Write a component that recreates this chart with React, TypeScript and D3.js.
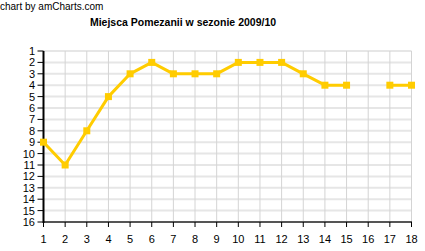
import React from "react";
import * as d3 from "d3";

const rounds = [1, 2, 3, 4, 5, 6, 7, 8, 9, 10, 11, 12, 13, 14, 15, 16, 17, 18];
const places: (number | null)[] = [9, 11, 8, 5, 3, 2, 3, 3, 3, 2, 2, 2, 3, 4, 4, null, 4, 4];
const yTicks = [1, 2, 3, 4, 5, 6, 7, 8, 9, 10, 11, 12, 13, 14, 15, 16];
const title = "Miejsca Pomezanii w sezonie 2009/10";
const credit = "chart by amCharts.com";

export default function App() {
  const W = 425, H = 251;
  const left = 43.5, right = 411.5, top = 51, bottom = 222;
  const x = d3.scaleLinear().domain([1, 18]).range([left, right]);
  const y = d3.scaleLinear().domain([1, 16]).range([top, bottom]);
  const pts = rounds.map((r, i) => ({ r, v: places[i] }));
  const line = d3
    .line<{ r: number; v: number | null }>()
    .defined((d) => d.v !== null)
    .x((d) => x(d.r))
    .y((d) => y(d.v as number));
  const font = "Liberation Sans, Arial, sans-serif";
  return (
    <svg width={W} height={H} style={{ position: "absolute", left: 0, top: 0, background: "#fff" }} fontFamily={font}>
      <rect x={0} y={0} width={W} height={H} fill="#fff" />
      <text x={0} y={10} fontSize={10} fill="#000">{credit}</text>
      <text x={183} y={26} fontSize={10.5} fontWeight="bold" textAnchor="middle" fill="#000">{title}</text>
      {yTicks.map((t) => (
        <line key={"gy" + t} x1={left} x2={right} y1={y(t)} y2={y(t)} stroke="#e6e6e6" strokeWidth={2} />
      ))}
      {rounds.map((r) => (
        <line key={"gx" + r} x1={x(r)} x2={x(r)} y1={top} y2={bottom} stroke="#d4d4d4" strokeWidth={1} />
      ))}
      <line x1={left} x2={right + 0.5} y1={bottom} y2={bottom} stroke="#555" strokeWidth={2} />
      {rounds.map((r) => (
        <g key={"tx" + r}>
          <line x1={x(r)} x2={x(r)} y1={bottom} y2={bottom + 5} stroke="#000" strokeWidth={1} />
          <text x={x(r)} y={243} fontSize={11} textAnchor="middle" fill="#000">{r}</text>
        </g>
      ))}
      {yTicks.map((t) => (
        <g key={"ty" + t}>
          <line x1={left - 6} x2={left} y1={y(t)} y2={y(t)} stroke="#000" strokeWidth={1} />
          <text x={35} y={y(t) + 4} fontSize={11} textAnchor="end" fill="#000">{t}</text>
        </g>
      ))}
      <line x1={left} x2={left} y1={top} y2={bottom + 1} stroke="#000" strokeWidth={2} />
      <path d={line(pts) || ""} fill="none" stroke="#FFCC00" strokeWidth={3} strokeLinejoin="round" />
      {pts.filter((d) => d.v !== null).map((d) => (
        <rect key={"m" + d.r} x={x(d.r) - 3.5} y={y(d.v as number) - 3.5} width={7} height={7} fill="#FFCC00" />
      ))}
    </svg>
  );
}
